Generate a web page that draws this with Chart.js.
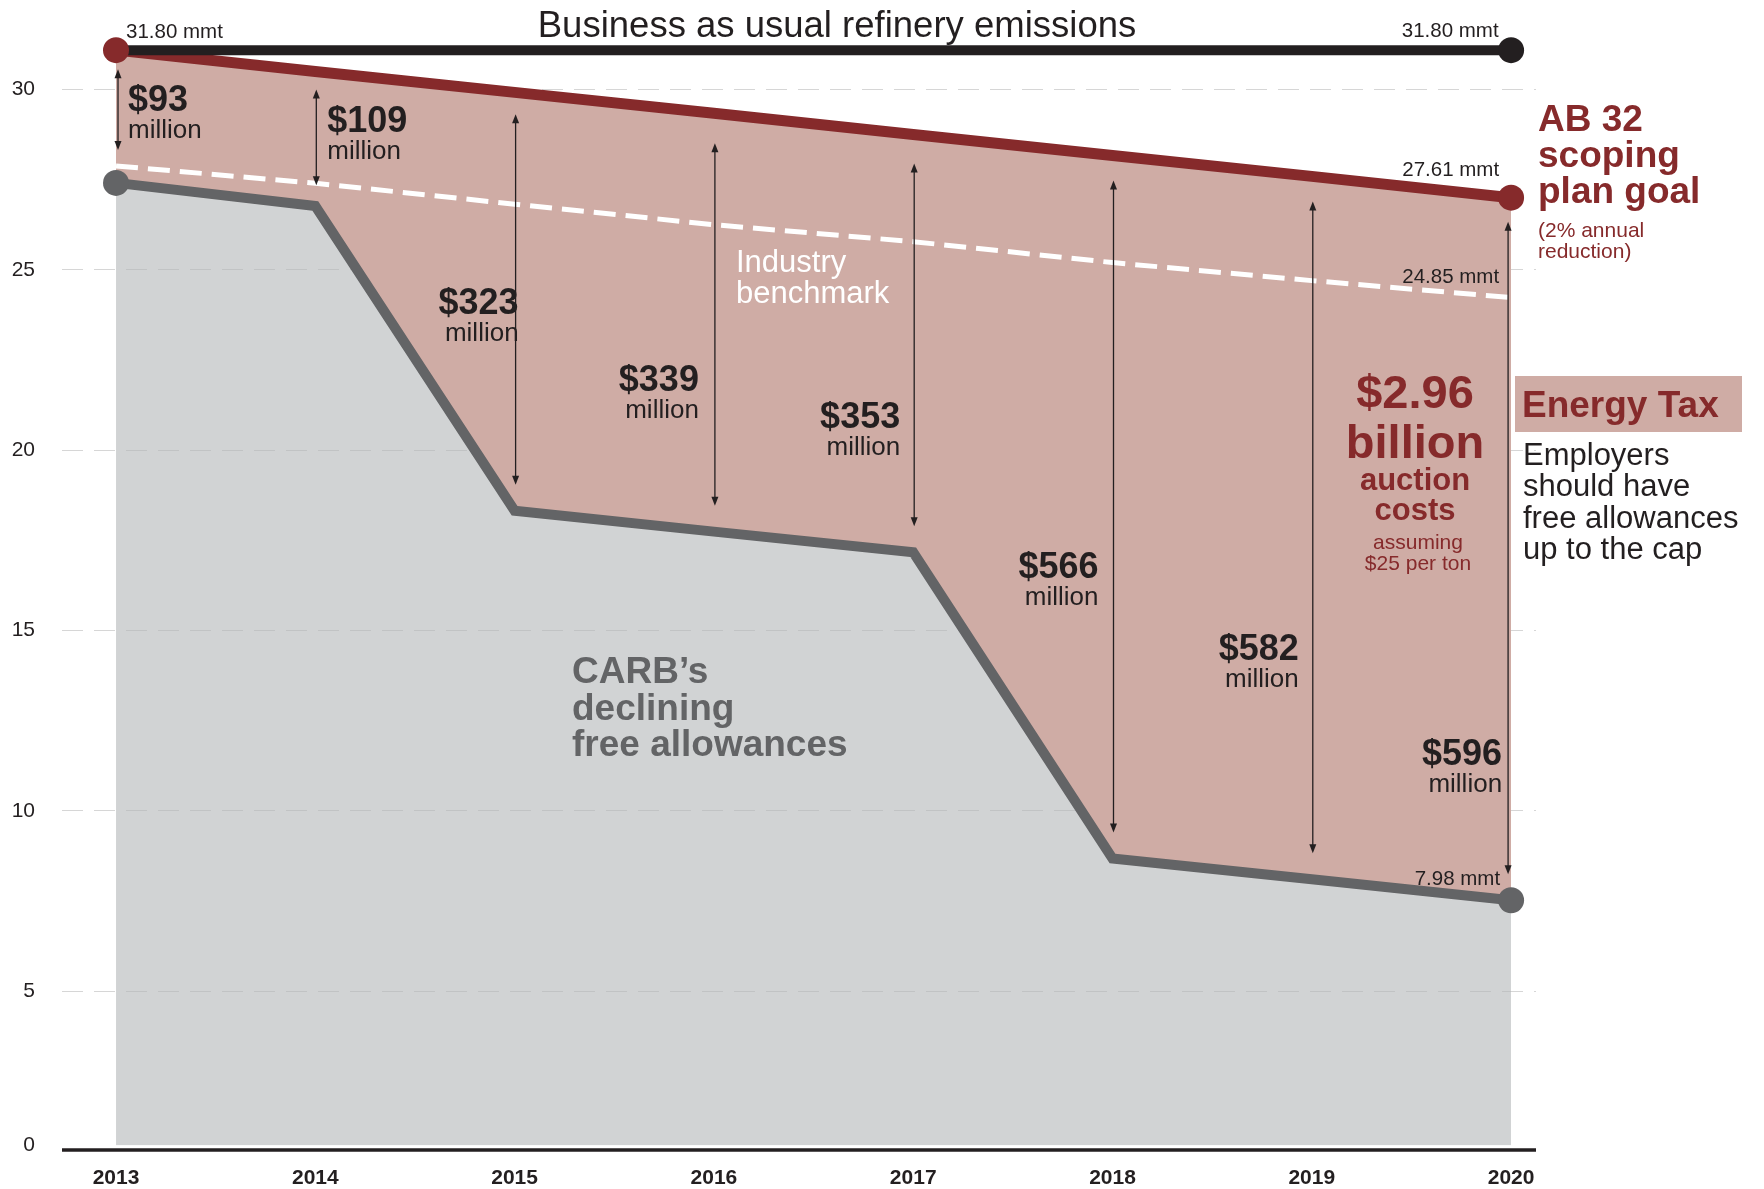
<!DOCTYPE html>
<html>
<head>
<meta charset="utf-8">
<script src="https://cdn.jsdelivr.net/npm/chart.js@4.4.1/dist/chart.umd.min.js"></script>
<style>
  html, body { margin: 0; padding: 0; background: #fff; }
  #wrap { width: 1764px; height: 1189px; position: relative; }
</style>
</head>
<body>
<div id="wrap"><canvas id="chart"></canvas></div>
<script>
'use strict';

// ---- data (million metric tons, read against the 5..30 gridlines) ----
const years = [2013, 2014, 2015, 2016, 2017, 2018, 2019, 2020];
const goalValues = [31.09, 30.50, 29.92, 29.34, 28.75, 28.17, 27.59, 27.00];       // AB 32 scoping plan goal
const bauYears = [2013, 2020];
const bauValues = [31.09, 31.09];                                                   // business as usual
const benchmarkValues = [27.88, 27.40, 26.82, 26.25, 25.78, 25.20, 24.70, 24.23];  // industry benchmark
const allowanceValues = [27.41, 26.77, 18.32, 17.74, 17.17, 8.68, 8.10, 7.52];     // CARB free allowances
const costLabels = ['$93', '$109', '$323', '$339', '$353', '$566', '$582', '$596'];
const yTickValues = [0, 5, 10, 15, 20, 25, 30];
const endLabels = { bau: '31.80 mmt', goal: '27.61 mmt', benchmark: '24.85 mmt', allowances: '7.98 mmt' };

// ---- styles ----
const FONT = '"Liberation Sans", Arial, Helvetica, sans-serif';
const INK = '#231f20';
const RED = '#862a2b';
const PINK = '#cfaca5';
const GRAY = '#636466';
const GRAY_FILL = 'rgba(178,181,184,0.6)';

Chart.defaults.font.family = FONT;
Chart.defaults.color = INK;

const pts = (xs, ys) => xs.map((x, i) => ({ x: x, y: ys[i] }));
const endsOnly = (n, r) => Array.from({ length: n }, (_, i) => (i === 0 || i === n - 1) ? r : 0);

// where the cost labels sit: x offset from the year, baseline in axis units
const costLayout = [
    { align: 'left',  dx: 12,  v: 29.40 },
    { align: 'left',  dx: 12,  v: 28.83 },
    { align: 'right', dx: 4,   v: 23.77 },
    { align: 'right', dx: -15, v: 21.63 },
    { align: 'right', dx: -13, v: 20.61 },
    { align: 'right', dx: -14, v: 16.46 },
    { align: 'right', dx: -13, v: 14.19 },
    { align: 'right', dx: -9,  v: 11.26 }
];
// gap in px between the goal line and the top of each cost arrow
const arrowTopGap = [19, 18, 22, 30, 29, 25, 25, 24];

function text(ctx, s, x, y, size, weight, color, align) {
    ctx.font = weight + ' ' + size + 'px ' + FONT;
    ctx.fillStyle = color;
    ctx.textAlign = align || 'left';
    ctx.textBaseline = 'alphabetic';
    ctx.fillText(s, x, y);
}

function arrow(ctx, x, y1, y2) {
    const h = 9, w = 3.5;
    ctx.save();
    ctx.strokeStyle = INK;
    ctx.fillStyle = INK;
    ctx.lineWidth = 1.3;
    ctx.beginPath();
    ctx.moveTo(x, y1 + h - 1);
    ctx.lineTo(x, y2 - h + 1);
    ctx.stroke();
    ctx.beginPath();
    ctx.moveTo(x, y1); ctx.lineTo(x - w, y1 + h); ctx.lineTo(x + w, y1 + h); ctx.closePath();
    ctx.fill();
    ctx.beginPath();
    ctx.moveTo(x, y2); ctx.lineTo(x - w, y2 - h); ctx.lineTo(x + w, y2 - h); ctx.closePath();
    ctx.fill();
    ctx.restore();
}

// axis base line sits a few px under the fills
const baseLine = {
    id: 'baseLine',
    afterDraw(chart) {
        const { ctx, chartArea } = chart;
        ctx.save();
        ctx.strokeStyle = INK;
        ctx.lineWidth = 3.5;
        ctx.beginPath();
        ctx.moveTo(chartArea.left, chartArea.bottom + 4.5);
        ctx.lineTo(chartArea.right, chartArea.bottom + 4.5);
        ctx.stroke();
        ctx.restore();
    }
};

const annotations = {
    id: 'annotations',
    afterDatasetsDraw(chart) {
        const ctx = chart.ctx;
        const X = v => chart.scales.x.getPixelForValue(v);
        const Y = v => chart.scales.y.getPixelForValue(v);
        const last = years.length - 1;
        ctx.save();

        // title over the BAU line
        text(ctx, 'Business as usual refinery emissions', 837, 36.5, 36.5, 'normal', INK, 'center');

        // end values
        text(ctx, endLabels.bau, X(2013) + 10, Y(bauValues[0]) - 12.5, 20.5, 'normal', INK, 'left');
        text(ctx, endLabels.bau, X(2020) - 12.5, Y(bauValues[1]) - 13, 20.5, 'normal', INK, 'right');
        text(ctx, endLabels.goal, X(2020) - 12, Y(goalValues[last]) - 21.5, 20.5, 'normal', INK, 'right');
        text(ctx, endLabels.benchmark, X(2020) - 12, Y(benchmarkValues[last]) - 15, 20.5, 'normal', INK, 'right');
        text(ctx, endLabels.allowances, X(2020) - 11, Y(allowanceValues[last]) - 15, 20.5, 'normal', INK, 'right');

        // cost arrows: goal line down to benchmark (first two) or to allowances
        years.forEach((yr, i) => {
            const dx = i === 0 ? 2 : (i === last ? -3 : 1);
            const top = Y(goalValues[i]) + arrowTopGap[i];
            let bottom;
            if (i === 0) bottom = Y(benchmarkValues[i]) - 16;
            else if (i === 1) bottom = Y(benchmarkValues[i]) + 2;
            else bottom = Y(allowanceValues[i]) - 26;
            arrow(ctx, X(yr) + dx, top, bottom);
        });

        // cost labels
        costLabels.forEach((s, i) => {
            const c = costLayout[i];
            const x = X(years[i]) + c.dx;
            const y = Y(c.v);
            text(ctx, s, x, y, 36, 'bold', INK, c.align);
            text(ctx, 'million', x, y + 27, 26, 'normal', INK, c.align);
        });

        // series notes
        text(ctx, 'Industry', 736, 271.5, 31, 'normal', '#ffffff', 'left');
        text(ctx, 'benchmark', 736, 303, 31, 'normal', '#ffffff', 'left');
        text(ctx, 'CARB\u2019s', 572, 683, 37, 'bold', GRAY, 'left');
        text(ctx, 'declining', 572, 719.5, 37, 'bold', GRAY, 'left');
        text(ctx, 'free allowances', 572, 756, 37, 'bold', GRAY, 'left');

        // total auction cost
        const cx = 1415;
        text(ctx, '$2.96', cx, 408, 47, 'bold', RED, 'center');
        text(ctx, 'billion', cx, 458, 47, 'bold', RED, 'center');
        text(ctx, 'auction', cx, 490, 31, 'bold', RED, 'center');
        text(ctx, 'costs', cx, 520, 31, 'bold', RED, 'center');
        text(ctx, 'assuming', cx + 3, 549, 21, 'normal', RED, 'center');
        text(ctx, '$25 per ton', cx + 3, 570, 21, 'normal', RED, 'center');

        // right margin notes
        text(ctx, 'AB 32', 1538, 130.5, 37, 'bold', RED, 'left');
        text(ctx, 'scoping', 1538, 166.5, 37, 'bold', RED, 'left');
        text(ctx, 'plan goal', 1538, 203, 37, 'bold', RED, 'left');
        text(ctx, '(2% annual', 1538, 237, 21, 'normal', RED, 'left');
        text(ctx, 'reduction)', 1538, 258, 21, 'normal', RED, 'left');

        ctx.fillStyle = PINK;
        ctx.fillRect(1515, 376, 227, 56);
        text(ctx, 'Energy Tax', 1522, 416.5, 37, 'bold', RED, 'left');
        text(ctx, 'Employers', 1523, 464.5, 31, 'normal', INK, 'left');
        text(ctx, 'should have', 1523, 496, 31, 'normal', INK, 'left');
        text(ctx, 'free allowances', 1523, 527.5, 31, 'normal', INK, 'left');
        text(ctx, 'up to the cap', 1523, 559, 31, 'normal', INK, 'left');

        ctx.restore();
    }
};

new Chart(document.getElementById('chart'), {
    type: 'line',
    data: {
        datasets: [
            {
                label: 'AB 32 goal markers',
                data: pts([years[0], years[years.length - 1]], [goalValues[0], goalValues[goalValues.length - 1]]),
                showLine: false,
                clip: false,
                pointRadius: 13,
                pointBorderWidth: 0,
                pointBackgroundColor: RED,
                fill: false
            },
            {
                label: 'Business as usual refinery emissions',
                data: pts(bauYears, bauValues),
                clip: false,
                borderColor: INK,
                borderWidth: 10,
                pointRadius: [0, 13],
                pointBorderWidth: 0,
                pointBackgroundColor: INK,
                fill: false
            },
            {
                label: 'AB 32 scoping plan goal',
                data: pts(years, goalValues),
                borderColor: RED,
                borderWidth: 11,
                pointRadius: 0,
                fill: 3,
                backgroundColor: PINK
            },
            {
                label: 'CARB free allowances',
                data: pts(years, allowanceValues),
                borderColor: GRAY,
                borderWidth: 10,
                borderJoinStyle: 'miter',
                pointRadius: endsOnly(years.length, 13),
                pointBorderWidth: 0,
                pointBackgroundColor: GRAY,
                fill: 'start',
                backgroundColor: GRAY_FILL
            },
            {
                label: 'Industry benchmark',
                data: pts(years, benchmarkValues),
                borderColor: '#ffffff',
                borderWidth: 5,
                borderDash: [22, 10],
                pointRadius: 0,
                fill: false
            }
        ]
    },
    options: {
        responsive: true,
        maintainAspectRatio: false,
        animation: false,
        events: [],
        layout: { padding: { top: 12, right: 228, left: 0, bottom: 0 } },
        plugins: {
            legend: { display: false },
            tooltip: { enabled: false },
            filler: { propagate: false, drawTime: 'beforeDatasetsDraw' }
        },
        scales: {
            x: {
                type: 'linear',
                min: 2012.729,
                max: 2020.125,
                grid: { display: false, drawTicks: false },
                border: { display: false },
                afterBuildTicks: scale => { scale.ticks = years.map(v => ({ value: v })); },
                afterFit: scale => { scale.height = 43.5; },
                ticks: {
                    padding: 20,
                    autoSkip: false,
                    maxRotation: 0,
                    color: INK,
                    font: { size: 21, weight: 'bold' },
                    callback: v => String(v)
                }
            },
            y: {
                // the baseline of the original sits a little above a true zero
                min: 0.72,
                max: 32.12,
                afterBuildTicks: scale => {
                    scale.ticks = yTickValues.map(v => ({ value: Math.max(v, scale.min) }));
                },
                afterFit: scale => {
                    scale.width = 62;
                    scale.paddingTop = 0;
                    scale.paddingBottom = 0;
                },
                grid: {
                    drawTicks: false,
                    lineWidth: 1,
                    color: c => (c.index === 0) ? 'rgba(0,0,0,0)' : '#d6d6d6'
                },
                border: { display: false, dash: [21, 11] },
                ticks: {
                    padding: 27,
                    color: INK,
                    font: { size: 21 },
                    callback: (v, i) => String(yTickValues[i])
                }
            }
        }
    },
    plugins: [annotations, baseLine]
});
</script>
</body>
</html>
